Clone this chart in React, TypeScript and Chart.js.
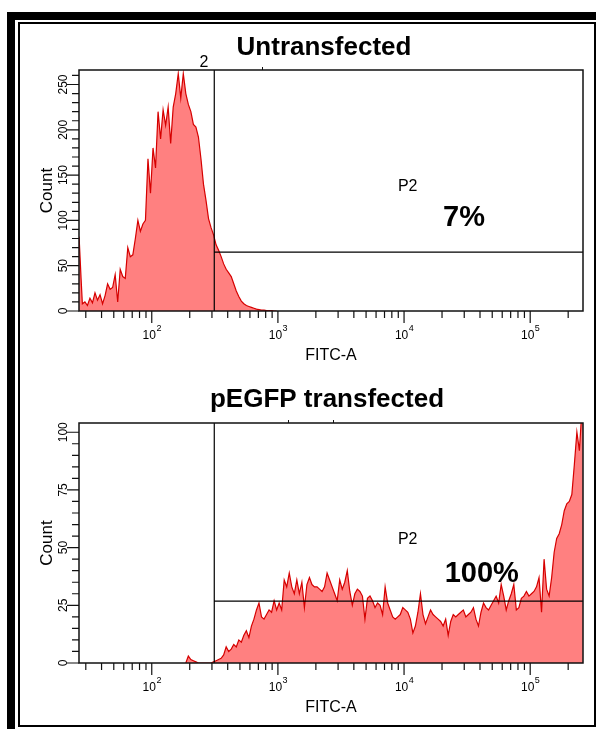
import React, { useEffect, useRef } from "react";
import { Chart, registerables } from "chart.js";

Chart.register(...registerables);

const FONT = '"Liberation Sans", Arial, Helvetica, sans-serif';
const LINE_COLOR = "rgb(214,0,0)";
const FILL_COLOR = "rgb(255,128,128)";

// ---------- data: FITC-A channel (log10 units) and counts ----------
const untransfectedLogFitc = [
  1.424, 1.44, 1.45, 1.47, 1.49, 1.51, 1.53, 1.55, 1.57, 1.59,
  1.61, 1.63, 1.65, 1.67, 1.69, 1.71, 1.73, 1.75, 1.77, 1.79,
  1.81, 1.83, 1.85, 1.87, 1.89, 1.91, 1.93, 1.95, 1.97, 1.99,
  2.01, 2.03, 2.05, 2.07, 2.09, 2.11, 2.13, 2.15, 2.17, 2.19,
  2.21, 2.23, 2.25, 2.27, 2.29, 2.31, 2.33, 2.35, 2.37, 2.39,
  2.41, 2.43, 2.45, 2.47, 2.49, 2.51, 2.53, 2.55, 2.57, 2.59,
  2.61, 2.63, 2.65, 2.67, 2.69, 2.71, 2.73, 2.75, 2.77, 2.79,
  2.81, 2.83, 2.85, 2.87, 2.89, 2.91, 2.93, 2.95, 2.97, 2.99,
];
const untransfectedCount = [
  82, 35, 8, 10, 6, 14, 9, 20, 12, 18,
  8, 17, 30, 24, 26, 40, 10, 46, 38, 36,
  70, 60, 62, 80, 100, 88, 96, 100, 168, 130,
  180, 158, 220, 190, 222, 205, 225, 185, 225, 240,
  262, 235, 262, 240, 228, 220, 206, 203, 192, 168,
  140, 122, 102, 92, 84, 73, 67, 60, 52, 46,
  42, 38, 30, 22, 16, 11, 8, 6, 5, 4,
  3, 2, 1.5, 1, 1, 0.5, 0.5, 0.5, 0, 0,
];

const transfectedLogFitc = [
  2.27, 2.29, 2.31, 2.33, 2.35, 2.37, 2.39, 2.41, 2.43, 2.45,
  2.47, 2.49, 2.51, 2.53, 2.55, 2.57, 2.59, 2.61, 2.63, 2.65,
  2.67, 2.69, 2.71, 2.73, 2.75, 2.77, 2.79, 2.81, 2.83, 2.85,
  2.87, 2.89, 2.91, 2.93, 2.95, 2.97, 2.99, 3.01, 3.03, 3.05,
  3.07, 3.09, 3.11, 3.13, 3.15, 3.17, 3.19, 3.21, 3.23, 3.25,
  3.27, 3.29, 3.31, 3.33, 3.35, 3.37, 3.39, 3.41, 3.43, 3.45,
  3.47, 3.49, 3.51, 3.53, 3.55, 3.57, 3.59, 3.61, 3.63, 3.65,
  3.67, 3.69, 3.71, 3.73, 3.75, 3.77, 3.79, 3.81, 3.83, 3.85,
  3.87, 3.89, 3.91, 3.93, 3.95, 3.97, 3.99, 4.01, 4.03, 4.05,
  4.07, 4.09, 4.11, 4.13, 4.15, 4.17, 4.19, 4.21, 4.23, 4.25,
  4.27, 4.29, 4.31, 4.33, 4.35, 4.37, 4.39, 4.41, 4.43, 4.45,
  4.47, 4.49, 4.51, 4.53, 4.55, 4.57, 4.59, 4.61, 4.63, 4.65,
  4.67, 4.69, 4.71, 4.73, 4.75, 4.77, 4.79, 4.81, 4.83, 4.85,
  4.87, 4.89, 4.91, 4.93, 4.95, 4.97, 4.99, 5.01, 5.03, 5.05,
  5.07, 5.09, 5.11, 5.13, 5.15, 5.17, 5.19, 5.21, 5.23, 5.25,
  5.27, 5.29, 5.31, 5.33, 5.35, 5.37, 5.39, 5.41, 5.418,
];
const transfectedCount = [
  0, 3, 1.5, 1, 0.5, 0, 0, 0, 0, 0,
  0, 0.5, 1, 1.5, 2, 3.5, 7, 5, 6, 8,
  7, 10, 9, 12, 14, 11, 16, 19, 23, 26,
  20, 19, 21, 23, 22, 27, 23, 26, 23, 36,
  33, 39, 33, 30, 36, 30, 35, 24, 34, 37,
  34, 33, 33, 32, 31, 33, 39, 36, 33, 30,
  27, 36, 32, 35, 40, 31, 25, 30, 32, 31,
  29, 19, 28, 29, 27, 24, 26, 25, 21, 33,
  26, 23, 20, 19, 20, 21, 24, 23, 22, 19,
  13, 16, 22, 30, 21, 17, 20, 23, 21, 20,
  19, 18, 16, 19, 12, 18, 21, 20, 21, 22,
  23, 20, 21, 22, 24, 19, 16, 22, 26, 24,
  23, 25, 27, 29, 26, 34, 29, 23, 27, 30,
  34, 23, 24, 28, 29, 31, 29, 30, 31, 33,
  37, 22, 45, 32, 29, 37, 48, 54, 56, 60,
  66, 69, 70, 73, 86, 100, 92, 110, 108,
];

// ---------- axes ----------
const xMin = 26.5;
const xMax = 262144;
const xTickDecades = [1, 2, 3, 4, 5];
const xLabelDecades = [2, 3, 4, 5];
const xMinorMultipliers = [2, 3, 4, 5, 6, 7, 8, 9];

const untransfectedYTicks = [0, 50, 100, 150, 200, 250];
const untransfectedYMinorStep = 10;
const untransfectedYMax = 266;
const transfectedYTicks = [0, 25, 50, 75, 100];
const transfectedYMinorStep = 5;
const transfectedYMax = 104;

// gates (FITC-A threshold, count level)
const untransfectedGate = { x: 313, y: 64.9 };
const transfectedGate = { x: 313, y: 26.8 };

type Cfg = {
  title: string;
  titleX: number;
  titleBaseline: number;
  logFitc: number[];
  counts: number[];
  yMax: number;
  yTicks: number[];
  yMinor: number;
  gate: { x: number; y: number };
  padding: { left: number; top: number; right: number; bottom: number };
  pct: string;
  pctDx: number;
  pctDy: number;
  extraLabel?: { text: string; dx: number; dy: number };
  topMarks: number[];
};

function decorPlugin(cfg: Cfg) {
  return {
    id: "flowDecor",
    afterDatasetsDraw(chart: any) {
      const { ctx, chartArea: a } = chart;
      const xs = chart.scales.x;
      const ys = chart.scales.y;
      ctx.save();
      ctx.fillStyle = "#000";
      ctx.strokeStyle = "#000";

      // gate lines
      ctx.lineWidth = 1.2;
      const gx = xs.getPixelForValue(cfg.gate.x);
      const gy = ys.getPixelForValue(cfg.gate.y);
      ctx.beginPath();
      ctx.moveTo(gx, a.top);
      ctx.lineTo(gx, a.bottom);
      ctx.moveTo(gx, gy);
      ctx.lineTo(a.right, gy);
      ctx.stroke();

      // plot box
      ctx.lineWidth = 1.5;
      ctx.strokeStyle = "#111";
      ctx.strokeRect(a.left, a.top, a.right - a.left, a.bottom - a.top);

      // small marks above top border
      ctx.lineWidth = 1;
      ctx.beginPath();
      cfg.topMarks.forEach((v) => {
        const px = Math.round(xs.getPixelForValue(v)) + 0.5;
        ctx.moveTo(px, a.top - 3);
        ctx.lineTo(px, a.top);
      });
      ctx.stroke();

      // x ticks
      ctx.lineWidth = 1.2;
      ctx.strokeStyle = "#111";
      ctx.beginPath();
      xTickDecades.forEach((d) => {
        [1, ...xMinorMultipliers].forEach((m) => {
          const v = m * Math.pow(10, d);
          if (v < xMin || v > xMax) return;
          const px = xs.getPixelForValue(v);
          const len = m === 1 ? 12 : 7;
          ctx.moveTo(px, a.bottom);
          ctx.lineTo(px, a.bottom + len);
        });
      });
      ctx.stroke();

      // x tick labels 10^n
      xLabelDecades.forEach((d) => {
        const px = xs.getPixelForValue(Math.pow(10, d));
        ctx.font = `12px ${FONT}`;
        const w1 = ctx.measureText("10").width;
        ctx.font = `9px ${FONT}`;
        const w2 = ctx.measureText(String(d)).width;
        const start = px - (w1 + w2) / 2;
        ctx.textAlign = "left";
        ctx.textBaseline = "alphabetic";
        ctx.font = `12px ${FONT}`;
        ctx.fillText("10", start, a.bottom + 28);
        ctx.font = `9px ${FONT}`;
        ctx.fillText(String(d), start + w1 + 0.5, a.bottom + 19.5);
      });

      // x axis title
      ctx.font = `16px ${FONT}`;
      ctx.textAlign = "center";
      ctx.fillText("FITC-A", (a.left + a.right) / 2, a.bottom + 49);

      // y ticks
      ctx.beginPath();
      for (let v = 0; v <= cfg.yMax; v += cfg.yMinor) {
        const py = ys.getPixelForValue(v);
        const len = cfg.yTicks.includes(v) ? 12 : 7;
        ctx.moveTo(a.left - len, py);
        ctx.lineTo(a.left, py);
      }
      ctx.stroke();

      // y tick labels (rotated)
      ctx.font = `12px ${FONT}`;
      ctx.textAlign = "center";
      ctx.textBaseline = "alphabetic";
      cfg.yTicks.forEach((v) => {
        const py = ys.getPixelForValue(v);
        ctx.save();
        ctx.translate(a.left - 12.5, py);
        ctx.rotate(-Math.PI / 2);
        ctx.fillText(String(v), 0, 0);
        ctx.restore();
      });

      // y axis title
      ctx.save();
      ctx.font = `17px ${FONT}`;
      ctx.translate(51.5, (a.top + a.bottom) / 2);
      ctx.rotate(-Math.PI / 2);
      ctx.fillText("Count", 0, 0);
      ctx.restore();

      // title
      ctx.font = `bold 26px ${FONT}`;
      ctx.textAlign = "center";
      ctx.fillText(cfg.title, cfg.titleX, cfg.titleBaseline);

      // gate name and percentage
      ctx.font = `16px ${FONT}`;
      ctx.fillText("P2", a.left + 328.7, a.top + 121);
      ctx.font = `bold 29px ${FONT}`;
      ctx.fillText(cfg.pct, a.left + cfg.pctDx, a.top + cfg.pctDy);

      if (cfg.extraLabel) {
        ctx.font = `16px ${FONT}`;
        ctx.fillText(cfg.extraLabel.text, a.left + cfg.extraLabel.dx, a.top + cfg.extraLabel.dy);
      }
      ctx.restore();
    },
  };
}

function makeChart(canvas: HTMLCanvasElement, cfg: Cfg) {
  const points = cfg.logFitc.map((l, i) => ({ x: Math.pow(10, l), y: cfg.counts[i] }));
  return new Chart(canvas, {
    type: "line",
    data: {
      datasets: [
        {
          data: points,
          borderColor: LINE_COLOR,
          backgroundColor: FILL_COLOR,
          borderWidth: 1.2,
          fill: "origin",
          pointRadius: 0,
          tension: 0,
        },
      ],
    },
    options: {
      responsive: false,
      animation: false,
      devicePixelRatio: 1,
      events: [],
      layout: { padding: cfg.padding },
      plugins: { legend: { display: false }, tooltip: { enabled: false }, title: { display: false } },
      scales: {
        x: { type: "logarithmic", min: xMin, max: xMax, display: false },
        y: { type: "linear", min: 0, max: cfg.yMax, display: false },
      },
    },
    plugins: [decorPlugin(cfg)],
  } as any);
}

const upperCfg: Cfg = {
  title: "Untransfected",
  titleX: 324,
  titleBaseline: 55,
  logFitc: untransfectedLogFitc,
  counts: untransfectedCount,
  yMax: untransfectedYMax,
  yTicks: untransfectedYTicks,
  yMinor: untransfectedYMinorStep,
  gate: untransfectedGate,
  padding: { left: 79, top: 70, right: 13, bottom: 54 },
  pct: "7%",
  pctDx: 385,
  pctDy: 156,
  extraLabel: { text: "2", dx: 125, dy: -3.5 },
  topMarks: [750],
};

const lowerCfg: Cfg = {
  title: "pEGFP transfected",
  titleX: 327,
  titleBaseline: 42,
  logFitc: transfectedLogFitc,
  counts: transfectedCount,
  yMax: transfectedYMax,
  yTicks: transfectedYTicks,
  yMinor: transfectedYMinorStep,
  gate: transfectedGate,
  padding: { left: 79, top: 58, right: 13, bottom: 66 },
  pct: "100%",
  pctDx: 402.8,
  pctDy: 159,
  topMarks: [1200, 2730],
};

export default function App() {
  const topRef = useRef<HTMLCanvasElement>(null);
  const botRef = useRef<HTMLCanvasElement>(null);

  useEffect(() => {
    const c1 = makeChart(topRef.current as HTMLCanvasElement, upperCfg);
    const c2 = makeChart(botRef.current as HTMLCanvasElement, lowerCfg);
    return () => {
      c1.destroy();
      c2.destroy();
    };
  }, []);

  return (
    <div style={{ position: "absolute", left: 0, top: 0, width: 596, height: 729, background: "#fff", overflow: "hidden" }}>
      <div style={{ position: "absolute", left: 7, top: 12, width: 589, height: 8, background: "#000" }} />
      <div style={{ position: "absolute", left: 7, top: 12, width: 8, height: 717, background: "#000" }} />
      <div
        style={{
          position: "absolute",
          left: 18,
          top: 22,
          width: 578,
          height: 705,
          border: "2px solid #000",
          boxSizing: "border-box",
        }}
      />
      <canvas ref={topRef} width={596} height={365} style={{ position: "absolute", left: 0, top: 0, width: 596, height: 365 }} />
      <canvas ref={botRef} width={596} height={364} style={{ position: "absolute", left: 0, top: 365, width: 596, height: 364 }} />
    </div>
  );
}
